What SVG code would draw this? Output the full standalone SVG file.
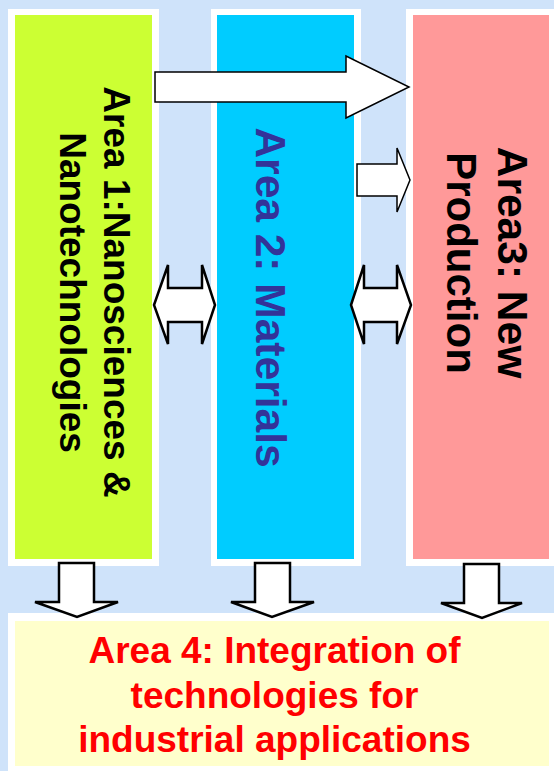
<svg xmlns="http://www.w3.org/2000/svg" width="554" height="771" viewBox="0 0 554 771">
<style>
.frame{fill:#ffffff}
.arrow{fill:#ffffff;stroke:#000000;stroke-linejoin:miter}
.thin{stroke-width:1.5}
.thick{stroke-width:2.5}
.lbl{font-family:"Liberation Sans",Arial,sans-serif;font-weight:bold;text-anchor:middle}
</style>
<rect x="0" y="0" width="554" height="771" fill="#CFE3FA"/>
<g id="area1">
<rect class="frame" x="8" y="9" width="151" height="557"/>
<rect x="15" y="15" width="137" height="544" fill="#CCFF33"/>
<text class="lbl" font-size="37" fill="#000000" transform="translate(104,292) rotate(90)">Area 1:Nanosciences &amp;</text>
<text class="lbl" font-size="37" fill="#000000" transform="translate(60,292.5) rotate(90)">Nanotechnologies</text>
</g>
<g id="area2">
<rect class="frame" x="211" y="9" width="150" height="557"/>
<rect x="217" y="15" width="137" height="544" fill="#00CCFF"/>
<text class="lbl" font-size="42.5" fill="#333399" transform="translate(256,297.5) rotate(90)">Area 2: Materials</text>
</g>
<g id="area3">
<rect class="frame" x="406" y="9" width="150" height="557"/>
<rect x="413" y="15" width="136" height="544" fill="#FF9999"/>
<text class="lbl" font-size="42.5" fill="#000000" transform="translate(498,262.5) rotate(90)">Area3: New</text>
<text class="lbl" font-size="42" fill="#000000" transform="translate(447,263) rotate(90)">Production</text>
</g>
<g id="area4">
<rect class="frame" x="8" y="613" width="548" height="160"/>
<rect x="15" y="621" width="534" height="145" fill="#FFFFCC"/>
<text class="lbl" font-size="37" fill="#FF0000" x="274.5" y="663">Area 4: Integration of</text>
<text class="lbl" font-size="37" fill="#FF0000" x="274.5" y="708">technologies for</text>
<text class="lbl" font-size="37" fill="#FF0000" x="274.5" y="752">industrial applications</text>
</g>
<g id="connectors">
<polygon class="arrow thin" points="155,72 346,72 346,56 409,87 346,118 346,102 155,102"/>
<polygon class="arrow thin" points="357,164 397,164 397,148 410,180 397,212 397,196 357,196"/>
<polygon class="arrow thick" points="154,305 168,265 168,288 202,288 202,265 215,305 202,344 202,322 168,322 168,344"/>
<polygon class="arrow thick" points="351,305 364,265 364,288 397,288 397,265 411,305 397,344 397,322 364,322 364,344"/>
<polygon class="arrow thick" points="59,563 94,563 94,602 118,602 77,617 35,602 59,602"/>
<polygon class="arrow thick" points="255,563 290,563 290,602 314,602 272,617 231,602 255,602"/>
<polygon class="arrow thick" points="464,564 499,564 499,603 522,603 482,618 441,603 464,603"/>
</g>
</svg>
